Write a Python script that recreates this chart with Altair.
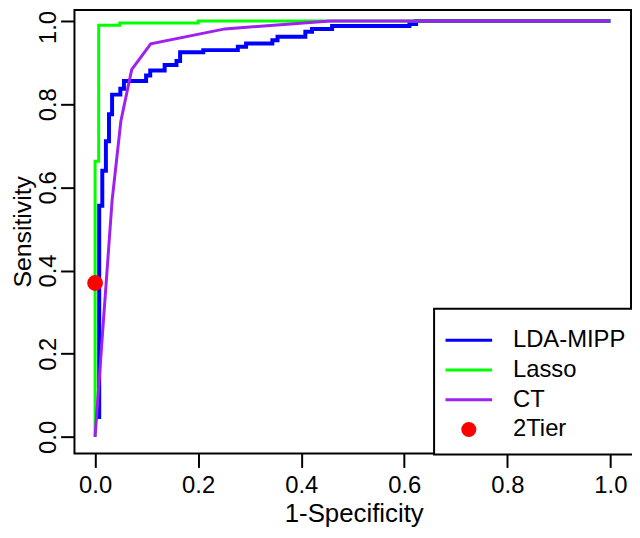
import altair as alt
import pandas as pd

# ---- data ----
methods = ["LDA-MIPP", "Lasso", "CT", "2Tier"]
colors = ["#0000FF", "#00FF00", "#A020F0", "#FF0000"]

lda_x = [0.008, 0.008, 0.014, 0.021, 0.027, 0.033, 0.049, 0.056, 0.099, 0.107,
         0.135, 0.158, 0.165, 0.21, 0.277, 0.293, 0.344, 0.354, 0.408, 0.421,
         0.46, 0.61, 0.623, 1.0]
lda_y = [0.043, 0.556, 0.64, 0.711, 0.776, 0.823, 0.837, 0.856, 0.869, 0.881,
         0.894, 0.904, 0.925, 0.93, 0.938, 0.946, 0.954, 0.962, 0.974, 0.981,
         0.988, 0.993, 1.0, 1.0]

lasso_x = [0.0, 0.0, 0.007, 0.048, 0.2, 1.0]
lasso_y = [0.0, 0.663, 0.99, 0.995, 1.0, 1.0]

ct_x = [0.0, 0.033, 0.05, 0.071, 0.108, 0.252, 0.456, 1.0]
ct_y = [0.0, 0.568, 0.759, 0.883, 0.945, 0.981, 1.0, 1.0]

tier_x = [0.0]
tier_y = [0.37]

tick_values = [0.0, 0.2, 0.4, 0.6, 0.8, 1.0]

def frame(xs, ys, name):
    return pd.DataFrame({"x": xs, "y": ys, "method": name, "i": list(range(len(xs)))})

lda_df = frame(lda_x, lda_y, "LDA-MIPP")
lasso_df = frame(lasso_x, lasso_y, "Lasso")
ct_df = frame(ct_x, ct_y, "CT")
tier_df = frame(tier_x, tier_y, "2Tier")

FONT = "Liberation Sans"

xenc = alt.X("x:Q", scale=alt.Scale(domain=[-0.04, 1.04], nice=False, zero=False),
             axis=alt.Axis(values=tick_values, format=".1f", title="1-Specificity",
                           tickSize=14, labelPadding=6, labelFlush=False,
                           titleFontSize=26,
                           titleX=281.5, titleY=69, titleAlign="center",
                           titleBaseline="alphabetic", titleAngle=0))
yenc = alt.Y("y:Q", scale=alt.Scale(domain=[-0.04, 1.0263], nice=False, zero=False),
             axis=alt.Axis(values=tick_values, format=".1f", title="Sensitivity",
                           tickSize=14, labelPadding=5, labelAngle=270,
                           labelAlign="center", labelBaseline="alphabetic",
                           labelOffset={"condition": {"test": "datum.value >= 0.99", "value": 6},
                                        "value": 0},
                           labelFlush=False, titleFontSize=25,
                           titleX=-44, titleY=223, titleAngle=270, titleAlign="center",
                           titleBaseline="alphabetic"))

cscale = alt.Scale(domain=methods, range=colors)

legend = alt.Legend(
    title=" ", titleFontSize=6, titlePadding=1,
    orient="none", legendX=362.5, legendY=301,
    fillColor="white", strokeColor="black", padding=10,
    labelFont=FONT, labelFontSize=24, labelColor="black", labelLimit=0,
    labelOffset=19.5, symbolSize=2209, symbolStrokeWidth=3, symbolType="stroke",
    clipHeight=29.5, rowPadding=0,
)

# small filled disc for the 2Tier entry (path in the unit symbol box)
DISC = "M-0.26,0A0.26,0.26 0 1,0 0.26,0A0.26,0.26 0 1,0 -0.26,0Z"
sym_test = "datum.value === '2Tier'"
legend_encode = {
    "legend": {"update": {"stroke": {"value": "black"}, "strokeWidth": {"value": 2}}},
    "symbols": {"update": {
        "shape": [{"test": sym_test, "value": DISC}, {"value": "stroke"}],
        "stroke": {"scale": "color", "field": "value"},
        "fill": [{"test": sym_test, "scale": "color", "field": "value"},
                 {"value": "transparent"}],
        "opacity": {"value": 1},
    }},
}

lda = alt.Chart(lda_df).mark_line(interpolate="step-after", strokeWidth=4).encode(
    x=xenc, y=yenc, order="i:Q",
    color=alt.Color("method:N", scale=cscale, legend=legend))
lasso = alt.Chart(lasso_df).mark_line(interpolate="step-after", strokeWidth=3).encode(
    x="x:Q", y="y:Q", order="i:Q",
    color=alt.Color("method:N", scale=cscale, legend=None))
ct = alt.Chart(ct_df).mark_line(strokeWidth=3).encode(
    x="x:Q", y="y:Q", order="i:Q",
    color=alt.Color("method:N", scale=cscale, legend=None))
tier = alt.Chart(tier_df).mark_circle(size=254, opacity=1).encode(
    x="x:Q", y="y:Q",
    color=alt.Color("method:N", scale=cscale, legend=None))


class ROCLayer(alt.LayerChart):
    """Layer chart that adds per-entry legend symbol styling after validation."""
    def to_dict(self, *args, **kwargs):
        d = super().to_dict(*args, **kwargs)
        try:
            d["layer"][0]["encoding"]["color"]["legend"]["encode"] = legend_encode
        except (KeyError, IndexError, TypeError):
            pass
        return d


chart = ROCLayer(layer=[lda, lasso, ct, tier]).properties(
    width=561, height=447,
    autosize=alt.AutoSizeParams(type="none"),
    padding={"left": 67, "top": 0, "right": 1, "bottom": 75},
    background="white",
).configure_view(
    stroke="black", strokeWidth=2
).configure_axis(
    grid=False, domain=False, tickColor="black", tickWidth=2,
    labelFont=FONT, labelFontSize=24, labelColor="black",
    titleFont=FONT, titleColor="black", titleFontWeight="normal",
)

chart.save("out.html", embed_options={"renderer": "svg", "actions": False})
